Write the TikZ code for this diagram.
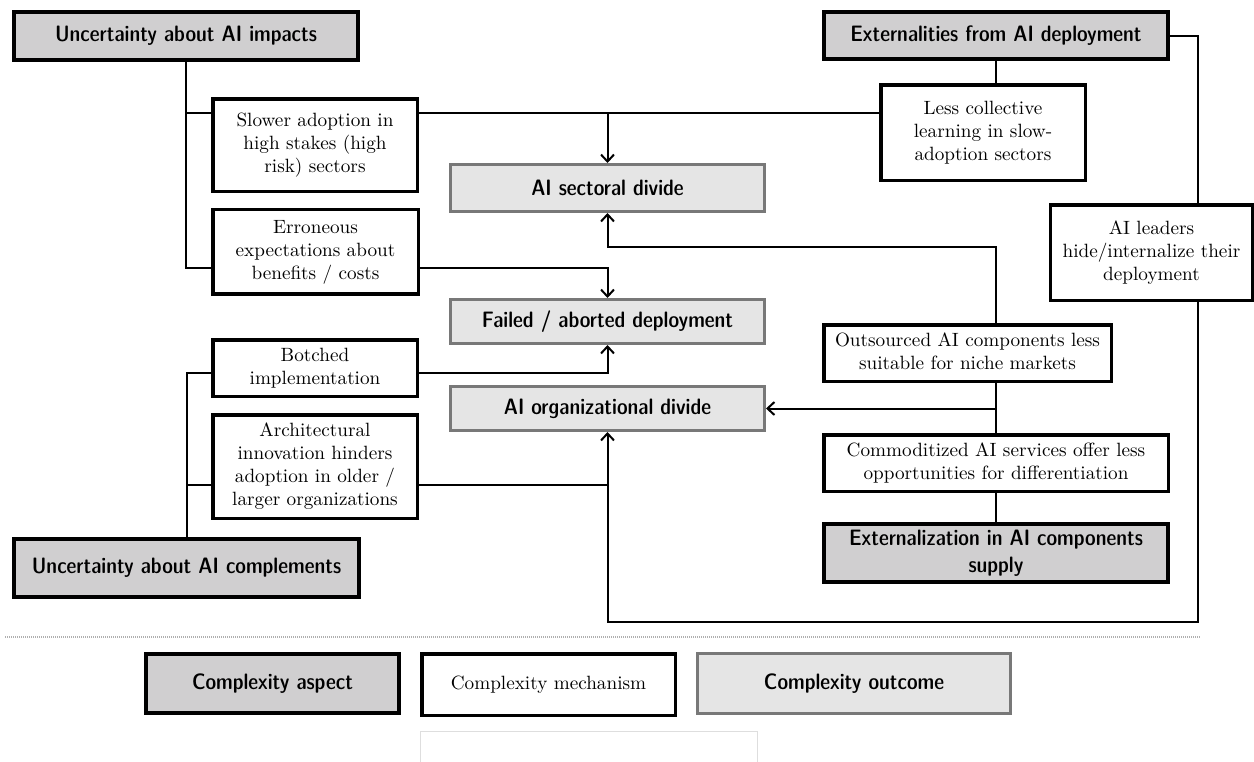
\documentclass[tikz,border=0pt]{standalone}
\usetikzlibrary{arrows.meta}
\definecolor{aspectfill}{RGB}{208,207,208}
\definecolor{outfill}{RGB}{229,229,229}
\definecolor{outborder}{RGB}{120,120,120}
\definecolor{faintline}{RGB}{222,222,222}
\definecolor{sepline}{RGB}{175,175,175}
% serif mechanism text: the 10pt design, enlarged as a whole
\newcommand{\mechtext}[1]{\scalebox{1.92}{\fontsize{10}{12}\selectfont\begin{tabular}{@{}c@{}}#1\end{tabular}}}
\begin{document}
\begin{tikzpicture}[x=1pt,y=-1pt,
  every node/.style={inner sep=0pt},
  aspect/.style={draw=black, fill=aspectfill, line width=4pt, align=center,
    font=\fontsize{22.3}{27}\fontseries{sbc}\sffamily\selectfont},
  mech/.style={draw=black, fill=white, line width=3.5pt},
  outcome/.style={draw=outborder, fill=outfill, line width=3pt, align=center,
    font=\fontsize{22.3}{27}\fontseries{sbc}\sffamily\selectfont},
  link/.style={line width=2pt},
  arr/.style={link, -{Straight Barb[length=7pt,width=13pt,line width=2pt]}},
]
\useasboundingbox (0,0) rectangle (1254,761);

% complexity aspects
\node[aspect, minimum width=344pt, minimum height=48pt] (imp) at (186,36) {Uncertainty about AI impacts};
\node[aspect, minimum width=344pt, minimum height=47pt] (ext) at (996,35.5) {Externalities from AI deployment};
\node[aspect, minimum width=345pt, minimum height=58pt] (comp) at (186.5,568) {Uncertainty about AI complements};
\node[aspect, minimum width=344pt, minimum height=58pt] (exz) at (996,553) {Externalization in AI components\\supply};

% complexity mechanisms
\node[mech, minimum width=204.5pt, minimum height=92.5pt] (slow) at (315,145) {\mechtext{Slower adoption in\\high stakes (high\\risk) sectors}};
\node[mech, minimum width=204.5pt, minimum height=95.5pt] (less) at (983,132.5) {\mechtext{Less collective\\learning in slow-\\adoption sectors}};
\node[mech, minimum width=202.5pt, minimum height=95.5pt] (lead) at (1151.5,252.5) {\mechtext{AI leaders\\hide/internalize their\\deployment}};
\node[mech, minimum width=205.5pt, minimum height=84.5pt] (err) at (315.5,251.5) {\mechtext{Erroneous\\expectations about\\benefits / costs}};
\node[mech, minimum width=287.5pt, minimum height=56.5pt] (out) at (967.5,353) {\mechtext{Outsourced AI components less\\suitable for niche markets}};
\node[mech, minimum width=204.5pt, minimum height=56.5pt] (bot) at (315,368) {\mechtext{Botched\\implementation}};
\node[mech, minimum width=204.5pt, minimum height=103.5pt] (arch) at (315,466.5) {\mechtext{Architectural\\innovation hinders\\adoption in older /\\larger organizations}};
\node[mech, minimum width=344.5pt, minimum height=56.5pt] (com) at (996,463) {\mechtext{Commoditized AI services offer less\\opportunities for differentiation}};

% complexity outcomes
\node[outcome, minimum width=314pt, minimum height=47pt] (sect) at (607.5,188) {AI sectoral divide};
\node[outcome, minimum width=314pt, minimum height=44pt] (fail) at (607.5,321.5) {Failed / aborted deployment};
\node[outcome, minimum width=314pt, minimum height=44pt] (org) at (607.5,408.5) {AI organizational divide};

% levels used by the routed connectors
\coordinate (ySlow) at (0,113);
\coordinate (yErr) at (0,268);
\coordinate (yBot) at (0,373);
\coordinate (yArch) at (0,485);
\coordinate (ySect) at (0,247);
\coordinate (yLoop) at (0,622);
\coordinate (xRight) at (1198,0);

% uncertainty about AI impacts
\draw[link] (imp.south) -- (imp.south |- yErr) -- (err.west |- yErr);
\draw[link] (imp.south |- ySlow) -- (slow.west |- ySlow);
\draw[link] (slow.east |- ySlow) -- (less.west |- ySlow);
\draw[arr] (sect.north |- ySlow) -- (sect.north);
\draw[arr] (err.east |- yErr) -| (fail.north);

% uncertainty about AI complements
\draw[link] (comp.north) -- (comp.north |- yBot) -- (bot.west |- yBot);
\draw[link] (comp.north |- yArch) -- (arch.west |- yArch);
\draw[arr] (bot.east |- yBot) -| (fail.south);
\draw[link] (arch.east |- yArch) -- (org.south |- yArch);

% externalities and externalization
\draw[link] (ext.south) -- (less.north -| ext.south);
\draw[link] (ext.east) -| (lead.north -| xRight);
\draw[arr] (lead.south -| xRight) |- (org.south |- yLoop) -- (org.south);
\draw[arr] (out.north -| com.north) |- (sect.south |- ySect) -- (sect.south);
\draw[link] (out.south -| com.north) -- (com.north);
\draw[arr] (com.north |- org.east) -- (org.east);
\draw[link] (com.south) -- (exz.north);

% legend
\draw[sepline, line width=1.5pt, dash pattern=on 1pt off 1pt] (5,637) -- (1200,637);
\node[aspect, minimum width=253pt, minimum height=59pt] (legA) at (272.5,683.5) {Complexity aspect};
\node[mech, minimum width=253.5pt, minimum height=61.5pt] (legM) at (548.5,684.5) {\mechtext{Complexity mechanism}};
\node[outcome, minimum width=313pt, minimum height=60pt] (legO) at (854,683.5) {Complexity outcome};
\draw[faintline, line width=1pt] (420.5,762) -- (420.5,731.5) -- (757,731.5) -- (757,762);
\end{tikzpicture}
\end{document}
